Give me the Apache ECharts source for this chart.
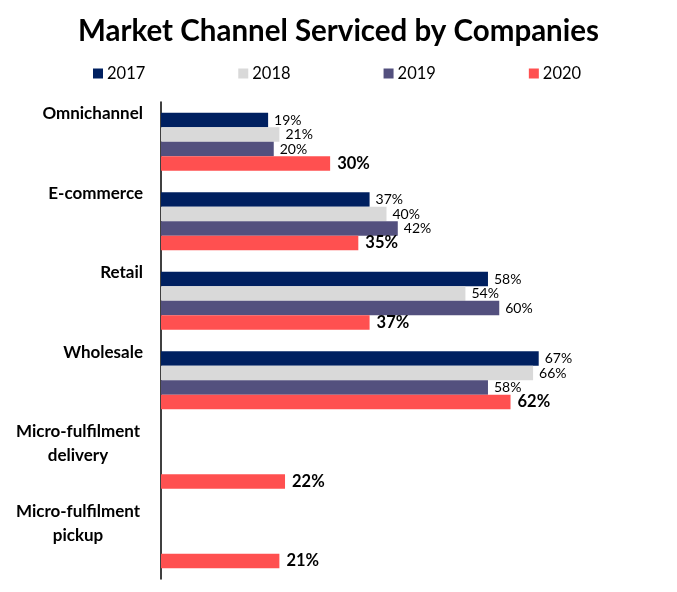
<!DOCTYPE html>
<html>
<head>
<meta charset="utf-8">
<script src="https://cdn.jsdelivr.net/npm/echarts@6/dist/echarts.min.js"></script>
<style>
  html, body { margin: 0; padding: 0; background: #fff; }
  #chart { width: 677px; height: 592px; }
</style>
</head>
<body>
<div id="chart"></div>
<script>
// data
const channels = ['Omnichannel', 'E-commerce', 'Retail', 'Wholesale', 'Micro-fulfilment delivery', 'Micro-fulfilment pickup'];
const years = ['2017', '2018', '2019', '2020'];
const v2017 = [19, 37, 58, 67, '-', '-'];
const v2018 = [21, 40, 54, 66, '-', '-'];
const v2019 = [20, 42, 60, 58, '-', '-'];
const v2020 = [30, 35, 37, 62, 22, 21];
const colors = ['#002060', '#d9d9d9', '#53507e', '#ff5050'];

const FONT = 'Lato, "Open Sans", sans-serif';
const chart = echarts.init(document.getElementById('chart'));

// two-word "Micro-fulfilment ..." labels break onto two centred lines
function channelLabel(name) {
    if (!name) return '';
    if (name.indexOf('Micro-fulfilment') === 0) {
        return '{m|Micro-fulfilment}\n{m|' + name.replace('Micro-fulfilment ', '') + '}';
    }
    return '{s|' + name + '}';
}

function makeSeries(name, data, idx) {
    const bold = idx === 3;
    return {
        name: name,
        type: 'bar',
        data: data,
        yAxisIndex: 0,
        barGap: '0%',
        barCategoryGap: '27%',
        itemStyle: { color: colors[idx] },
        label: {
            show: true,
            position: 'right',
            distance: bold ? 7 : 6,
            formatter: '{c}%',
            color: '#000',
            fontFamily: FONT,
            fontSize: bold ? 16.5 : 14,
            fontWeight: bold ? 'bold' : 'normal'
        }
    };
}

const option = {
    animation: false,
    title: {
        text: 'Market Channel Serviced by Companies',
        left: 'center',
        top: 11,
        textStyle: { fontFamily: FONT, fontSize: 29.5, fontWeight: 'bold', color: '#000' }
    },
    legend: {
        data: years,
        left: 88,
        top: 60,
        icon: 'rect',
        itemWidth: 10,
        itemHeight: 10,
        itemGap: 93,
        textStyle: { fontFamily: FONT, fontSize: 16.5, color: '#000', padding: [0, 0, 0, -1] }
    },
    grid: { left: 161, right: 65, top: 102, bottom: 13 },
    xAxis: {
        type: 'value',
        min: 0,
        max: 80,
        show: false
    },
    yAxis: [
        {
            type: 'category',
            data: channels,
            inverse: true,
            axisLine: { show: true, lineStyle: { color: '#000', width: 1.5 } },
            axisTick: { show: false },
            axisLabel: { show: false }
        },
        {
            // same band, ticks on band edges so the names sit at the top of each group
            type: 'category',
            data: channels.concat(['']),
            inverse: true,
            position: 'left',
            boundaryGap: false,
            axisLine: { show: false },
            axisTick: { show: false },
            axisLabel: {
                interval: 0,
                margin: 18,
                verticalAlign: 'top',
                formatter: channelLabel,
                rich: {
                    s: { fontFamily: FONT, fontSize: 17, fontWeight: 'bold', color: '#000', lineHeight: 24 },
                    m: { fontFamily: FONT, fontSize: 17, fontWeight: 'bold', color: '#000', lineHeight: 24, width: 130, align: 'center' }
                }
            }
        }
    ],
    series: [
        makeSeries('2017', v2017, 0),
        makeSeries('2018', v2018, 1),
        makeSeries('2019', v2019, 2),
        makeSeries('2020', v2020, 3)
    ]
};

chart.setOption(option);
window.addEventListener('resize', () => chart.resize());
</script>
</body>
</html>
